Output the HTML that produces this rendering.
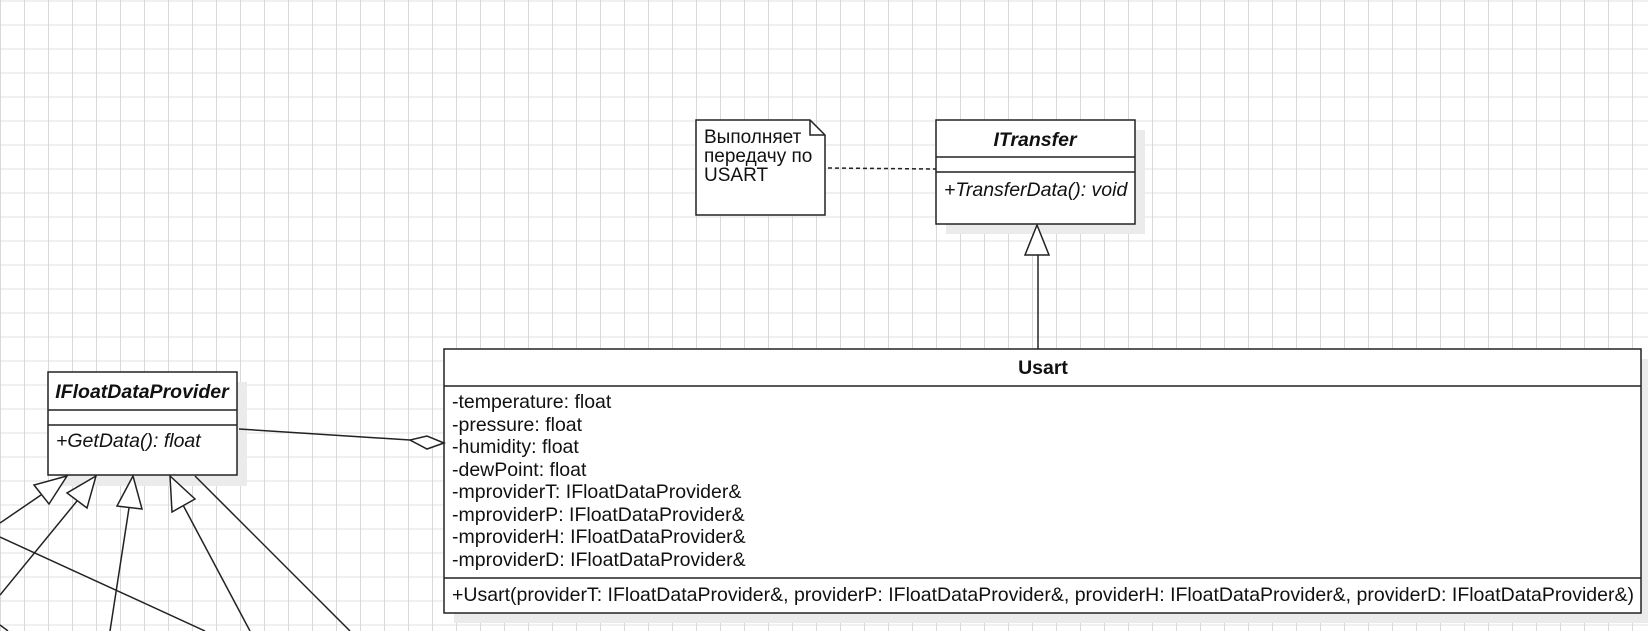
<!DOCTYPE html>
<html><head><meta charset="utf-8"><style>
html,body{margin:0;padding:0;background:#fff;}
svg{display:block;}
text{font-family:"Liberation Sans","Noto Sans CJK SC",sans-serif;fill:#111;}
</style></head><body>
<svg width="1648" height="631" viewBox="0 0 1648 631" xmlns="http://www.w3.org/2000/svg">
<defs>
<pattern id="g" width="24" height="24" patternUnits="userSpaceOnUse">
<rect x="0" y="0" width="24" height="2" fill="#f0f0f0"/>
<rect x="0" y="0" width="1" height="24" fill="#d9d9d9"/>
</pattern>
</defs>
<rect width="1648" height="631" fill="url(#g)"/>

<rect x="946" y="130" width="199" height="104" fill="#ebebeb"/>
<rect x="58" y="382" width="189" height="104" fill="#ebebeb"/>
<rect x="454" y="359" width="1197" height="264" fill="#ebebeb"/>

<path d="M696 120 H810 L825 135 V215 H696 Z" fill="#fff" stroke="#222" stroke-width="1.5"/>
<path d="M810 120 V135 H825" fill="none" stroke="#222" stroke-width="1.5"/>
<text x="704" y="143" font-size="19">Выполняет</text>
<text x="704" y="162" font-size="19">передачу по</text>
<text x="704" y="181" font-size="19">USART</text>
<line x1="828" y1="168" x2="936" y2="169" stroke="#222" stroke-width="1.5" stroke-dasharray="4,3"/>

<rect x="936" y="120" width="199" height="104" fill="#fff" stroke="#222" stroke-width="1.5"/>
<line x1="936" y1="157" x2="1135" y2="157" stroke="#222" stroke-width="1.5"/>
<line x1="936" y1="172" x2="1135" y2="172" stroke="#222" stroke-width="1.5"/>
<text x="1035" y="146" font-size="19.5" font-weight="bold" font-style="italic" text-anchor="middle">ITransfer</text>
<text x="944" y="196" font-size="19.5" font-style="italic">+TransferData(): void</text>
<line x1="1038" y1="255" x2="1038" y2="349" stroke="#222" stroke-width="1.5"/>
<path d="M1037 225 L1025 255 H1049 Z" fill="#fff" stroke="#222" stroke-width="1.5"/>

<rect x="444" y="349" width="1197" height="264" fill="#fff" stroke="#222" stroke-width="1.5"/>
<line x1="444" y1="386" x2="1641" y2="386" stroke="#222" stroke-width="1.5"/>
<line x1="444" y1="578" x2="1641" y2="578" stroke="#222" stroke-width="1.5"/>
<text x="1043" y="374" font-size="19.5" font-weight="bold" text-anchor="middle">Usart</text>
<g font-size="19.5">
<text x="452" y="408">-temperature: float</text>
<text x="452" y="431">-pressure: float</text>
<text x="452" y="453">-humidity: float</text>
<text x="452" y="476">-dewPoint: float</text>
<text x="452" y="498">-mproviderT: IFloatDataProvider&amp;</text>
<text x="452" y="521">-mproviderP: IFloatDataProvider&amp;</text>
<text x="452" y="543">-mproviderH: IFloatDataProvider&amp;</text>
<text x="452" y="566">-mproviderD: IFloatDataProvider&amp;</text>
<text x="452" y="601" textLength="1182" lengthAdjust="spacingAndGlyphs">+Usart(providerT: IFloatDataProvider&amp;, providerP: IFloatDataProvider&amp;, providerH: IFloatDataProvider&amp;, providerD: IFloatDataProvider&amp;)</text>
</g>

<rect x="48" y="372" width="189" height="103" fill="#fff" stroke="#222" stroke-width="1.5"/>
<line x1="48" y1="410" x2="237" y2="410" stroke="#222" stroke-width="1.5"/>
<line x1="48" y1="425" x2="237" y2="425" stroke="#222" stroke-width="1.5"/>
<text x="142" y="398" font-size="19.5" font-weight="bold" font-style="italic" text-anchor="middle">IFloatDataProvider</text>
<text x="56" y="447" font-size="19.5" font-style="italic">+GetData(): float</text>

<line x1="239" y1="429" x2="410" y2="440" stroke="#222" stroke-width="1.5"/>
<path d="M444 443 L427 449 L410 440 L427 436 Z" fill="#fff" stroke="#222" stroke-width="1.5"/>

<g stroke="#222" stroke-width="1.5" fill="#fff">
<line x1="0" y1="523" x2="41" y2="495"/>
<path d="M67 476 L34 485 L49 504 Z"/>
<line x1="0" y1="595" x2="77" y2="501"/>
<path d="M96 476 L67 493 L87 508 Z"/>
<line x1="110" y1="631" x2="129" y2="508"/>
<path d="M133 476 L117 506 L142 509 Z"/>
<line x1="250" y1="631" x2="183" y2="505"/>
<path d="M170 476 L172 512 L195 499 Z"/>
<line x1="195" y1="476" x2="350" y2="631"/>
<line x1="0" y1="537" x2="205" y2="631"/>
<line x1="0" y1="625" x2="8" y2="631"/>
</g>
</svg>
</body></html>
